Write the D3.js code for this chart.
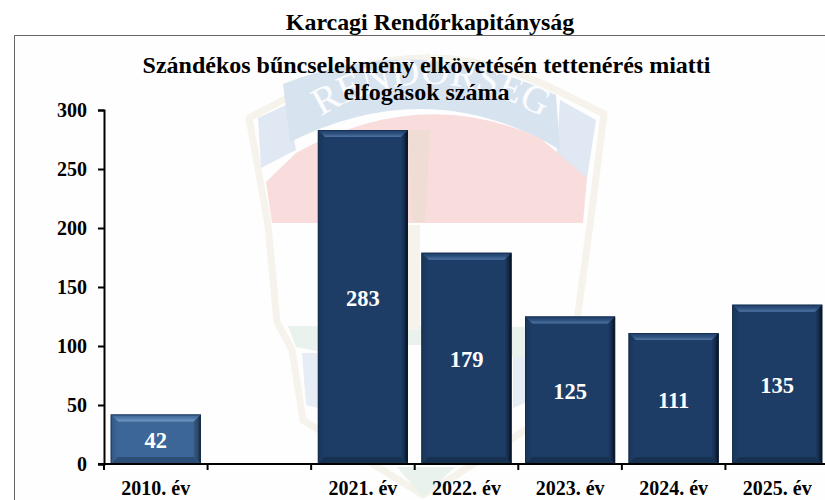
<!DOCTYPE html>
<html><head><meta charset="utf-8">
<script src="https://cdn.jsdelivr.net/npm/d3@7"></script>
<style>html,body{margin:0;padding:0;background:#fff}svg{display:block}
text{font-family:"Liberation Serif","Times New Roman",serif;font-weight:700}</style></head>
<body><svg id="c" width="825" height="500"></svg>
<script>
const categories=["2010. év","","2021. év","2022. év","2023. év","2024. év","2025. év"];
const values=[42,null,283,179,125,111,135];
const yTicks=[0,50,100,150,200,250,300];
const outerTitle="Karcagi Rendőrkapitányság";
const titleLines=["Szándékos bűncselekmény elkövetésén tettenérés miatti","elfogások száma"];
const emblemText="RENDŐRSÉG";
const barColors=["#3c6698","#1d3c66"];

const svg=d3.select("#c");
const defs=svg.append("defs");
function grad(id,x1,y1,x2,y2,stops){const g=defs.append("linearGradient").attr("id",id).attr("x1",x1).attr("y1",y1).attr("x2",x2).attr("y2",y2);
 stops.forEach(s=>g.append("stop").attr("offset",s[0]).attr("stop-color",s[1]));}
grad("topA",0,0,0,1,[[0,"#3a5f8c"],[.5,"#4f78a8"],[1,"#7398c4"]]);
grad("topB",0,0,0,1,[[0,"#1f3f69"],[.5,"#2c4f7c"],[1,"#4f76a6"]]);
grad("rightA",0,0,1,0,[[0,"#36597f"],[.6,"#2a4666"],[1,"#0f2036"]]);
grad("rightB",0,0,1,0,[[0,"#1d3c66"],[.5,"#142c4c"],[1,"#030a14"]]);
grad("leftA",0,0,1,0,[[0,"#325680"],[1,"#3c6698"]]);
grad("leftB",0,0,1,0,[[0,"#1a3659"],[1,"#1d3c66"]]);

// frame
svg.append("rect").attr("x",14.5).attr("y",35.5).attr("width",830).attr("height",480).attr("fill","#fefefe").attr("stroke","#666").attr("stroke-width",1);

// faint emblem behind the chart
const wm=svg.append("g");
const cream="#f5f3ec";
wm.append("path").attr("d","M249 118 L283 100 Q420 20 560 92 L604 114 L590 225 L577 320 L556 352 L552 410 Q500 450 423 495 Q350 450 303 420 L292 350 L277 322 L268 225 Z")
  .attr("fill","#fefefe").attr("stroke",cream).attr("stroke-width",7).attr("stroke-linejoin","round");
wm.append("path").attr("d","M258 118 L288 104 L296 150 L261 168 Z").attr("fill","#dfe8f3");
wm.append("path").attr("d","M560 100 L596 120 L587 178 L556 160 Z").attr("fill","#dfe8f3");
wm.append("path").attr("d","M283 84 Q420 30 556 95 L560 150 Q430 72 290 142 Z").attr("fill","#d8e3f0");
wm.append("path").attr("d","M266 182 L296 153 Q420 84 540 138 L587 178 L583 223 L272 223 Z").attr("fill","#f9dcdc");
wm.append("path").attr("d","M288 326 L553 327 L550 357 L515 357 L460 345 L400 345 L322 352 L296 347 Z").attr("fill","#e9f2ec");
wm.append("path").attr("d","M302 353 L325 353 L325 410 L306 405 Z").attr("fill","#e6edf5");
wm.append("path").attr("d","M513 357 L545 357 L545 395 L513 408 Z").attr("fill","#e6edf5");
wm.append("path").attr("d","M397 467 L455 467 L423 497 Z").attr("fill","#e9f2ec");
wm.append("path").attr("d","M408 225 L420 225 L420 330 L408 330 Z").attr("fill",cream);
wm.append("path").attr("d","M408 130 L430 130 L425 222 L412 222 Z").attr("fill","#efdcd4");
defs.append("path").attr("id","arc").attr("d","M304 128 Q425 40 560 128");
wm.append("text").attr("font-size",39).attr("fill","#fbfcfe").style("font-weight",400)
  .append("textPath").attr("href","#arc").attr("startOffset","50%").attr("text-anchor","middle").text(emblemText);

const plot={left:104,right:829,top:110,bottom:464};
const x=d3.scaleBand().domain(d3.range(categories.length)).range([plot.left,plot.right]).paddingInner(0.13).paddingOuter(0.065);
const y=d3.scaleLinear().domain([0,300]).range([plot.bottom,plot.top]);

// bars with bevel
const B=7;
const bars=svg.append("g").selectAll("g").data(values.map((v,i)=>({v,i})).filter(d=>d.v!=null)).join("g");
function poly(pts){return "M"+pts.map(p=>p.join(",")).join("L")+"Z";}
bars.each(function(d){
  const g=d3.select(this),k=d.i===0?0:1,s=k?"B":"A";
  const x0=x(d.i),x1=x0+x.bandwidth(),y0=y(d.v),y1=y(0);
  g.append("rect").attr("x",x0).attr("y",y0).attr("width",x1-x0).attr("height",y1-y0).attr("fill",barColors[k]);
  g.append("path").attr("d",poly([[x0,y0],[x1,y0],[x1-B,y0+B],[x0+B,y0+B]])).attr("fill",`url(#top${s})`);
  g.append("path").attr("d",poly([[x1,y0],[x1,y1],[x1-B,y1-B],[x1-B,y0+B]])).attr("fill",`url(#right${s})`);
  g.append("path").attr("d",poly([[x0,y0],[x0,y1],[x0+B,y1-B],[x0+B,y0+B]])).attr("fill",`url(#left${s})`);
  g.append("path").attr("d",poly([[x0,y1],[x1,y1],[x1-B,y1-B],[x0+B,y1-B]])).attr("fill",k?"#16304f":"#2c4d75");
  g.append("rect").attr("x",x0+.5).attr("y",y0+.5).attr("width",x1-x0-1).attr("height",y1-y0-1).attr("fill","none").attr("stroke","#12263f").attr("stroke-opacity",.55);
  g.append("text").attr("x",(x0+x1)/2).attr("y",(y0+y1)/2+9).attr("text-anchor","middle").attr("font-size",22.5).attr("fill","#fff").text(d.v);
});

// axes
const yAxis=d3.axisLeft(y).tickValues(yTicks).tickSize(6).tickPadding(11);
const gy=svg.append("g").attr("transform",`translate(${plot.left},0)`).call(yAxis);
gy.selectAll("path,line").attr("stroke","#000").attr("stroke-width",2);
gy.selectAll("text").attr("font-size",20).attr("fill","#000").attr("font-family",'"Liberation Serif"');

const gx=svg.append("g").attr("transform",`translate(0,${plot.bottom})`);
const edges=d3.range(categories.length+1).map(i=>plot.left+i*(plot.right-plot.left)/categories.length);
gx.append("line").attr("x1",plot.left-6).attr("x2",825).attr("y1",0).attr("y2",0).attr("stroke","#000").attr("stroke-width",2);
gx.selectAll("line.t").data(edges).join("line").attr("class","t").attr("x1",d=>d).attr("x2",d=>d).attr("y1",0).attr("y2",6).attr("stroke","#000").attr("stroke-width",2);
gx.selectAll("text").data(categories).join("text").attr("x",(d,i)=>x(i)+x.bandwidth()/2).attr("y",31).attr("text-anchor","middle").attr("font-size",20).attr("fill","#000").text(d=>d);

// titles
svg.append("text").attr("x",430).attr("y",29.5).attr("text-anchor","middle").attr("font-size",23.9).attr("fill","#000").text(outerTitle);
svg.selectAll("text.tl").data(titleLines).join("text").attr("class","tl").attr("x",426.5).attr("y",(d,i)=>73+i*27).attr("text-anchor","middle").attr("font-size",24).attr("fill","#000").text(d=>d);
</script></body></html>
